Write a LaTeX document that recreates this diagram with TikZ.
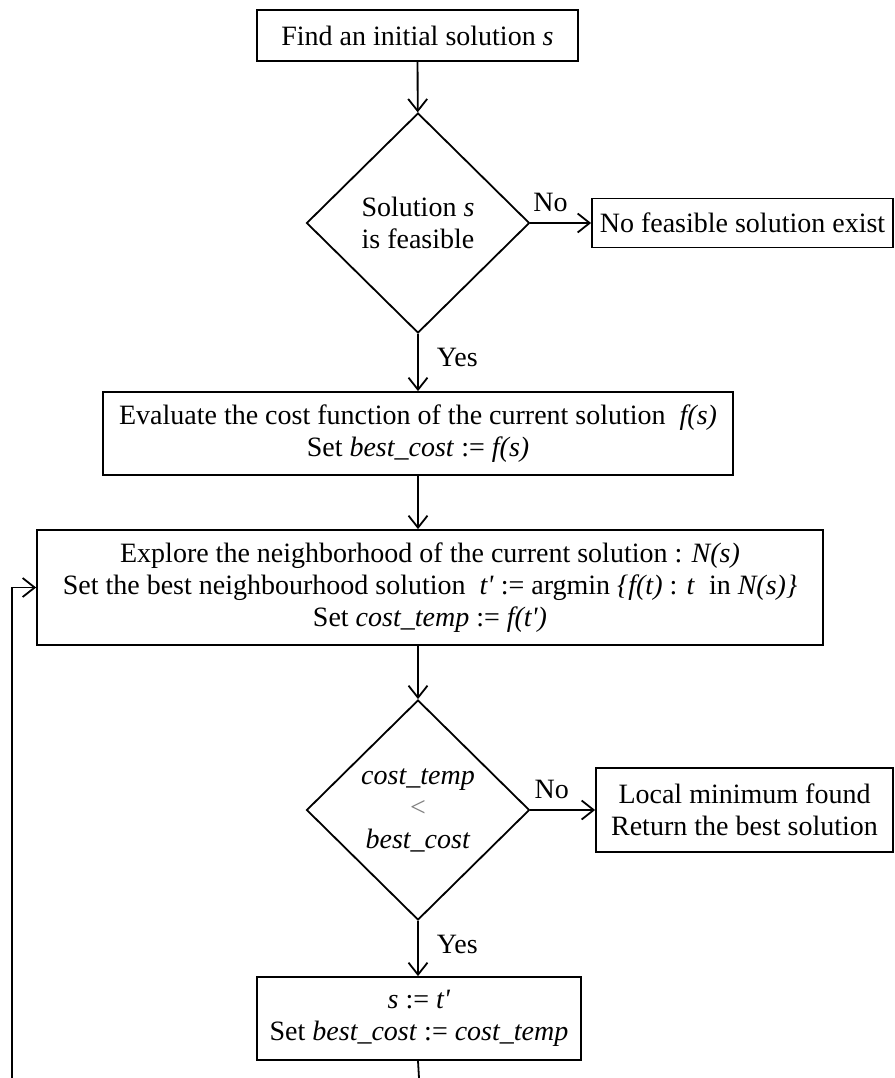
\documentclass[tikz,border=0pt]{standalone}
\usepackage{fontspec}
\setmainfont{Liberation Serif}
\usetikzlibrary{shapes.geometric,arrows.meta}

\tikzset{
  stepbox/.style={draw,line width=0.9pt,align=center,inner sep=0pt},
  testbox/.style={draw,diamond,line width=0.9pt,align=center,inner sep=0pt,minimum width=111.5pt,minimum height=110pt},
  flow/.style={line width=0.9pt,-{Straight Barb[length=6pt,width=9.5pt]}},
  link/.style={line width=0.9pt},
  answer/.style={inner sep=1pt}
}
\newcommand{\tpr}{\textit{t\textquotesingle}}

\begin{document}
\begin{tikzpicture}[x=0.5pt,y=-0.5pt,font=\fontsize{14pt}{16pt}\selectfont]
  \useasboundingbox (0,0) rectangle (895,1078);

  \node[stepbox,minimum width=160.5pt,minimum height=25.5pt] (init) at (417.5,35.5) {Find an initial solution \textit{s}};
  \node[testbox] (feas) at (418,223) {Solution \textit{s}\\is feasible};
  \node[stepbox,minimum width=150.5pt,minimum height=24.5pt] (nofeas) at (742.5,223) {No feasible solution exist};
  \node[stepbox,minimum width=315pt,minimum height=41.5pt] (evalc) at (418,433.5) {Evaluate the cost function of the current solution \ \textit{f(s)}\\Set \textit{best\_cost} := \textit{f(s)}};
  \node[stepbox,minimum width=393pt,minimum height=57.5pt] (explore) at (430,587.5) {Explore the neighborhood of the current solution : \textit{N(s)}\\Set the best neighbourhood solution \ \tpr{} := argmin \textit{\{f(t)} : \textit{t} \ in \textit{N(s)\}}\\Set \textit{cost\_temp} := \textit{f(\tpr)}};
  \node[testbox] (better) at (418,810) {\textit{cost\_temp}\\{\color{gray}<}\\\textit{best\_cost}};
  \node[stepbox,minimum width=148.5pt,minimum height=42pt] (localmin) at (744.5,810) {Local minimum found\\Return the best solution};
  \node[stepbox,minimum width=162pt,minimum height=41.5pt] (update) at (419,1018.5) {\textit{s} := \tpr\\Set \textit{best\_cost} := \textit{cost\_temp}};

  \coordinate (bottom) at (419,1078);
  \coordinate (loopstart) at (12,1078);

  \draw[flow] (init) -- (feas);
  \draw[flow] (feas.east) -- node[answer,above,pos=0.33,yshift=4pt] {No} (nofeas.west);
  \draw[flow] (feas.south) -- node[answer,right,pos=0.42,xshift=8pt] {Yes} (evalc.north -| feas.south);
  \draw[flow] (evalc.south -| feas.south) -- (explore.north -| feas.south);
  \draw[flow] (explore.south -| feas.south) -- (better.north);
  \draw[flow] (better.east) -- node[answer,above,pos=0.33,yshift=4pt] {No} (localmin.west);
  \draw[flow] (better.south) -- node[answer,right,pos=0.42,xshift=8pt] {Yes} (update.north -| better.south);
  \draw[link] (update.south -| better.south) -- (bottom);
  \draw[flow] (loopstart) |- (explore.west);
\end{tikzpicture}
\end{document}
